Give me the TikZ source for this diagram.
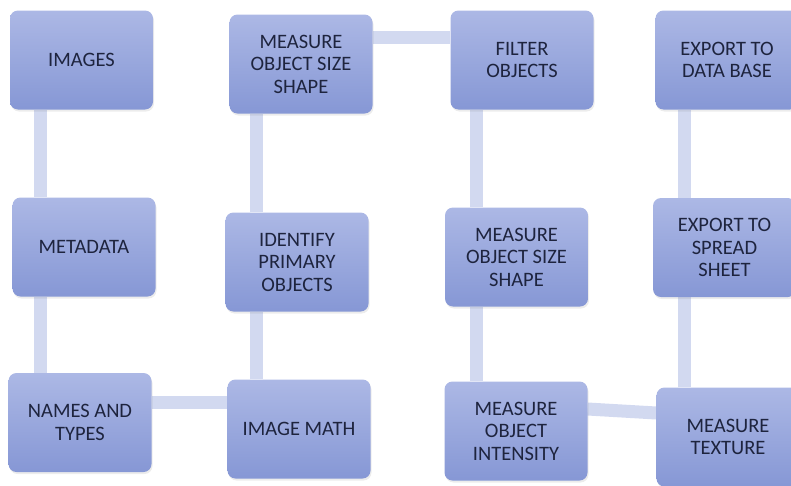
\documentclass[tikz,border=0pt]{standalone}
\usepackage{fontspec}
\setmainfont{Carlito}
\usetikzlibrary{backgrounds,shadows}
\definecolor{boxtop}{RGB}{172,184,229}
\definecolor{boxbot}{RGB}{134,151,213}
\definecolor{conncol}{RGB}{210,217,240}
\definecolor{txtcol}{RGB}{30,36,62}
\tikzset{
  stepbox/.style={rounded corners=8pt, top color=boxtop, bottom color=boxbot,
    draw=none, minimum width=143pt, minimum height=99pt, align=center,
    text=txtcol, font=\fontsize{20.5pt}{22.5pt}\selectfont,
    drop shadow={opacity=0.15, shadow xshift=1pt, shadow yshift=-2pt}},
  conn/.style={draw=conncol, line width=13pt}
}
\begin{document}
\begin{tikzpicture}[x=1pt,y=-1pt]
\useasboundingbox (0,0) rectangle (791,485);
\node[stepbox] (img) at (81.5,60) {IMAGES};
\node[stepbox] (ms1) at (301,64) {MEASURE\\OBJECT SIZE\\SHAPE};
\node[stepbox] (flt) at (522,60) {FILTER\\OBJECTS};
\node[stepbox] (edb) at (727,60) {EXPORT TO\\DATA BASE};
\node[stepbox] (meta) at (84,247) {METADATA};
\node[stepbox] (idp) at (297,262) {IDENTIFY\\PRIMARY\\OBJECTS};
\node[stepbox] (ms2) at (516.5,257) {MEASURE\\OBJECT SIZE\\SHAPE};
\node[stepbox] (esp) at (724.5,247.5) {EXPORT TO\\SPREAD\\SHEET};
\node[stepbox] (nat) at (80,422.5) {NAMES AND\\TYPES};
\node[stepbox] (imm) at (299,429) {IMAGE MATH};
\node[stepbox] (moi) at (516,431) {MEASURE\\OBJECT\\INTENSITY};
\node[stepbox] (mtx) at (728,437) {MEASURE\\TEXTURE};
\coordinate (xa) at (40,0);
\coordinate (xb) at (256,0);
\coordinate (xc) at (476,0);
\coordinate (xd) at (684,0);
\coordinate (ya) at (0,37);
\coordinate (yb) at (0,402);
\coordinate (yc1) at (0,409);
\coordinate (yc2) at (0,413);
\begin{scope}[on background layer]
\draw[conn] (img.south -| xa) -- (meta.north -| xa);
\draw[conn] (meta.south -| xa) -- (nat.north -| xa);
\draw[conn] (nat.east |- yb) -- (imm.west |- yb);
\draw[conn] (imm.north -| xb) -- (idp.south -| xb);
\draw[conn] (idp.north -| xb) -- (ms1.south -| xb);
\draw[conn] (ms1.east |- ya) -- (flt.west |- ya);
\draw[conn] (flt.south -| xc) -- (ms2.north -| xc);
\draw[conn] (ms2.south -| xc) -- (moi.north -| xc);
\draw[conn] (moi.east |- yc1) -- (mtx.west |- yc2);
\draw[conn] (mtx.north -| xd) -- (esp.south -| xd);
\draw[conn] (esp.north -| xd) -- (edb.south -| xd);
\end{scope}
\end{tikzpicture}
\end{document}
